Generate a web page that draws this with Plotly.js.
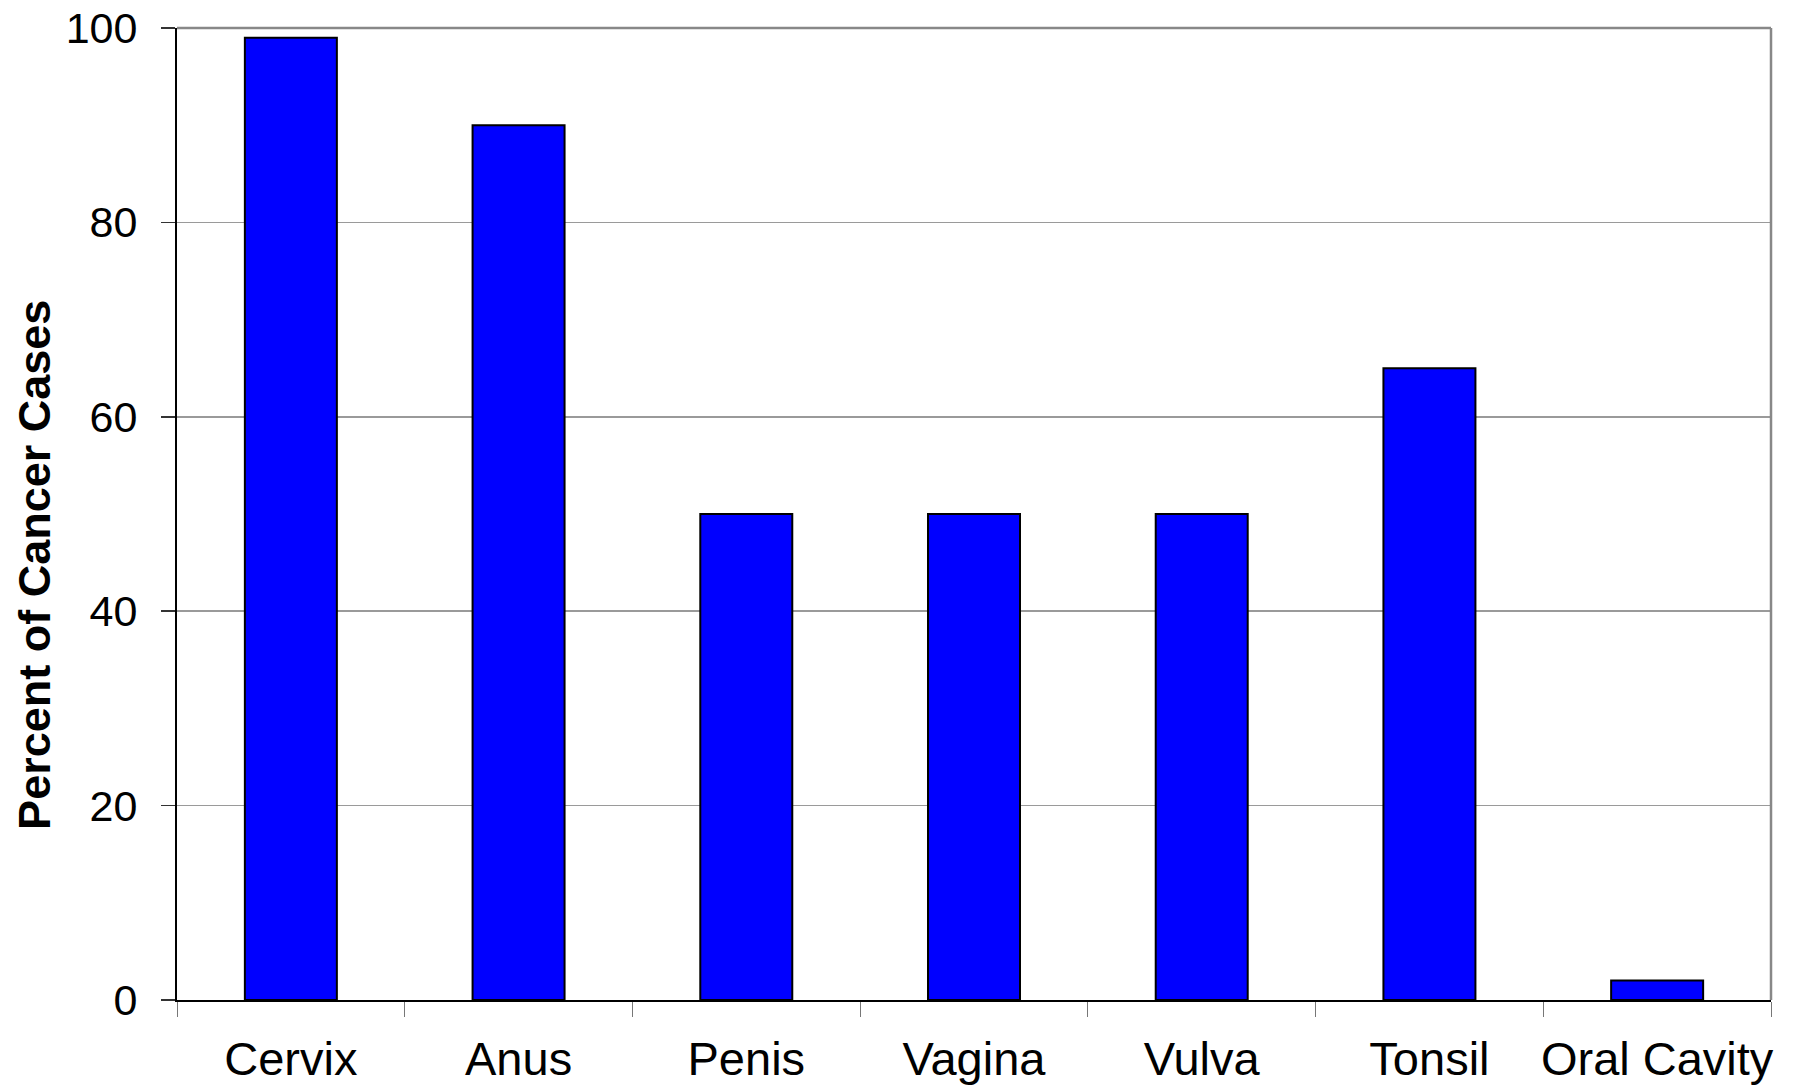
<!DOCTYPE html>
<html>
<head>
<meta charset="utf-8">
<script src="https://cdn.plot.ly/plotly-3.0.1.min.js"></script>
<style>
  html, body { margin: 0; padding: 0; background: #ffffff; }
  #chart { width: 1795px; height: 1085px; }
</style>
</head>
<body>
<div id="chart"></div>
<script>
// Share of cancer cases attributable to HPV, by site
const sites = ['Cervix', 'Anus', 'Penis', 'Vagina', 'Vulva', 'Tonsil', 'Oral Cavity'];
const percentCases = [99, 90, 50, 50, 50, 65, 2];
const yTicks = [0, 20, 40, 60, 80, 100];
const yAxisLabel = 'Percent of Cancer Cases';

const fontFamily = '"Liberation Sans", Arial, Helvetica, sans-serif';

const trace = {
  type: 'bar',
  x: sites,
  y: percentCases,
  marker: { color: '#0000FF', line: { color: '#000000', width: 2 } },
  hoverinfo: 'x+y'
};

const layout = {
  width: 1795,
  height: 1085,
  margin: { l: 177, r: 24, t: 28, b: 85 },
  paper_bgcolor: '#ffffff',
  plot_bgcolor: '#ffffff',
  showlegend: false,
  bargap: 0.596,
  font: { family: fontFamily, color: '#000000' },
  xaxis: {
    type: 'category',
    tickson: 'boundaries',
    ticks: 'outside',
    ticklen: 15,
    tickwidth: 1,
    tickcolor: '#777777',
    tickangle: 0,
    automargin: false,
    showline: true,
    linecolor: '#000000',
    linewidth: 2,
    showgrid: false,
    zeroline: false,
    tickfont: { family: fontFamily, size: 47, color: '#000000' },
    ticklabelstandoff: 17
  },
  yaxis: {
    range: [0, 100],
    tickvals: yTicks,
    ticktext: yTicks.map(String),
    ticks: 'outside',
    ticklen: 14,
    tickwidth: 1.5,
    tickcolor: '#333333',
    automargin: false,
    showline: true,
    linecolor: '#000000',
    linewidth: 2,
    showgrid: true,
    gridcolor: '#9a9a9a',
    gridwidth: 1.5,
    zeroline: false,
    tickfont: { family: fontFamily, size: 43, color: '#000000' },
    ticklabelstandoff: 15
  },
  shapes: [
    // top and right frame lines of the plot area
    { type: 'line', xref: 'paper', yref: 'paper', x0: 0, x1: 1, y0: 1, y1: 1,
      line: { color: '#888888', width: 2.5 } },
    { type: 'line', xref: 'paper', yref: 'paper', x0: 1, x1: 1, y0: 0, y1: 1,
      line: { color: '#888888', width: 2.5 } }
  ],
  annotations: [
    {
      text: '<b>' + yAxisLabel + '</b>',
      xref: 'paper', yref: 'paper',
      x: -0.0895, y: 0.448,
      xanchor: 'center', yanchor: 'middle',
      textangle: -90,
      showarrow: false,
      font: { family: fontFamily, size: 45, color: '#000000' }
    }
  ]
};

Plotly.newPlot('chart', [trace], layout, { displayModeBar: false, staticPlot: true });
</script>
</body>
</html>
